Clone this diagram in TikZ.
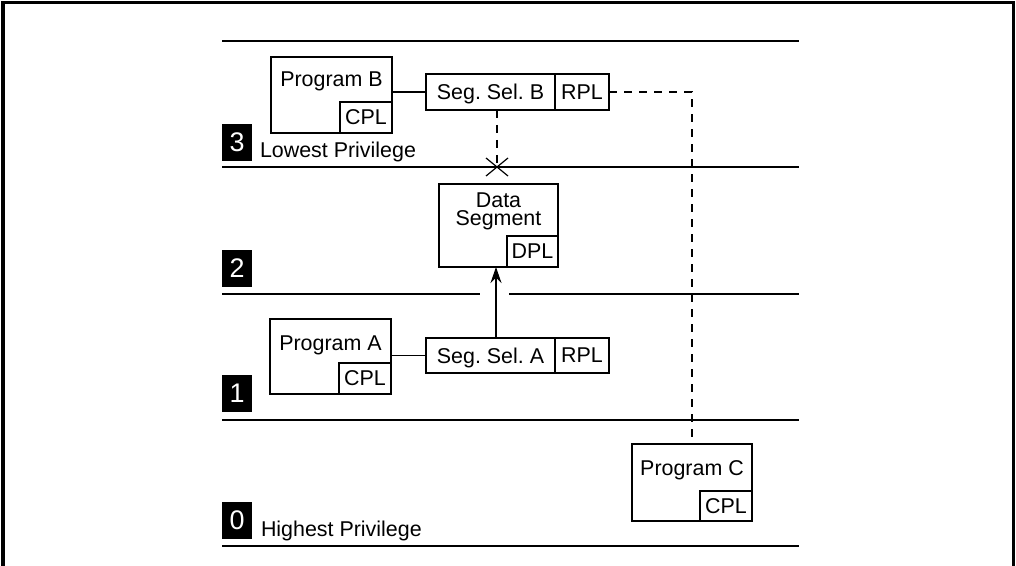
\documentclass[tikz,border=0pt]{standalone}
\usepackage{fontspec}
\setmainfont{Liberation Sans}
\usetikzlibrary{arrows.meta}
\frenchspacing
\begin{document}
\begin{tikzpicture}[x=1bp,y=-1bp,
  txt/.style={inner sep=0pt, outer sep=0pt, font=\fontsize{21.5}{24}\selectfont},
  bigbox/.style={draw, line width=2.3bp, inner sep=0pt, outer sep=0pt},
  subbox/.style={draw, line width=1.1bp, inner sep=0pt, outer sep=0pt, font=\fontsize{21.5}{24}\selectfont},
  lvl/.style={fill=black, text=white, inner sep=0pt, outer sep=0pt, minimum width=30bp, minimum height=37bp, font=\fontsize{27}{30}\selectfont},
  ring/.style={line width=1.4bp},
  conn/.style={line width=1.2bp},
  dashconn/.style={line width=1.1bp, dash pattern=on 8bp off 7bp},
  frame/.style={line width=3bp}
]
\useasboundingbox (0,0) rectangle (1016,566);
% frame (open at bottom)
\draw[frame] (3,570) -- (3,2.5) -- (1013.5,2.5) -- (1013.5,570);

% ring separators
\draw[ring] (222,41) -- (799,41);
\draw[ring] (222,167) -- (799,167);
\draw[ring] (222,294) -- (480,294);
\draw[ring] (509,294) -- (799,294);
\draw[ring] (222,420) -- (799,420);
\draw[ring] (222,546) -- (799,546);

% level labels
\node[lvl] (n3) at (237,142.5) {3};
\node[lvl] (n2) at (237,268.5) {2};
\node[lvl] (n1) at (237,393.5) {1};
\node[lvl] (n0) at (237,520) {0};
\node[txt, anchor=base west] (lowest) at (260,158) {Lowest Privilege};
\node[txt, anchor=base west] (highest) at (261,536) {Highest Privilege};

% Program B
\node[bigbox, minimum width=121bp, minimum height=76bp, anchor=north west] (progB) at (271,57) {};
\node[subbox, minimum width=52bp, minimum height=31bp, anchor=south east] (progBcpl) at (progB.south east) {CPL};
\node[txt, anchor=base] (progBlbl) at (331.5,87) {Program B};

% Seg. Sel. B
\node[bigbox, minimum width=183bp, minimum height=36bp, anchor=north west] (selB) at (426,74) {};
\node[subbox, minimum width=54bp, minimum height=36bp, anchor=east] (selBrpl) at (selB.east) {RPL};
\node[txt, anchor=base] (selBlbl) at (490.5,99.5) {Seg. Sel. B};

% Data Segment
\node[bigbox, minimum width=119bp, minimum height=83bp, anchor=north west] (data) at (439,184) {};
\node[subbox, minimum width=51bp, minimum height=31bp, anchor=south east] (datadpl) at (data.south east) {DPL};
\node[txt, align=center, font=\fontsize{21.5}{18.5}\selectfont, anchor=north] (datalbl) at (498.5,192.5) {Data\\Segment};

% Program A
\node[bigbox, minimum width=121bp, minimum height=75bp, anchor=north west] (progA) at (270,319) {};
\node[subbox, minimum width=52bp, minimum height=31bp, anchor=south east] (progAcpl) at (progA.south east) {CPL};
\node[txt, anchor=base] (progAlbl) at (330.5,350) {Program A};

% Seg. Sel. A
\node[bigbox, minimum width=183bp, minimum height=35bp, anchor=north west] (selA) at (426,338) {};
\node[subbox, minimum width=54bp, minimum height=35bp, anchor=east] (selArpl) at (selA.east) {RPL};
\node[txt, anchor=base] (selAlbl) at (490.5,363.5) {Seg. Sel. A};

% Program C
\node[bigbox, minimum width=120bp, minimum height=77bp, anchor=north west] (progC) at (632,444) {};
\node[subbox, minimum width=52bp, minimum height=30bp, anchor=south east] (progCcpl) at (progC.south east) {CPL};
\node[txt, anchor=base] (progClbl) at (692,475) {Program C};

% connectors
\draw[conn] (selB.west -| progB.east) -- (selB.west);
\draw[conn] (selA.west -| progA.east) -- (selA.west);
\coordinate (arrS) at (496,338);
\draw[conn, -{Stealth[length=16bp, width=11bp]}] (arrS) -- (arrS |- data.south);
\coordinate (xmark) at (497,167);
\draw[dashconn] (xmark |- selB.south) -- (xmark);
\draw[conn] (xmark) +(-11,-9) -- +(11,9);
\draw[conn] (xmark) +(-11,9) -- +(11,-9);
\draw[dashconn] (selB.east) -- (selB.east -| progC.north) -- (progC.north);
\end{tikzpicture}
\end{document}
